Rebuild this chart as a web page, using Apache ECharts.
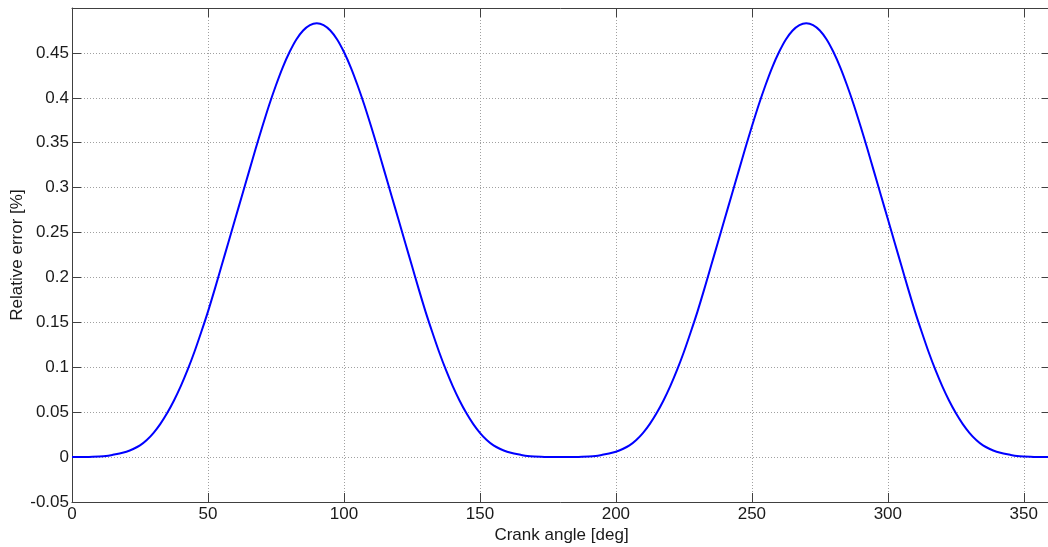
<!DOCTYPE html>
<html>
<head>
<meta charset="utf-8">
<script src="https://cdn.jsdelivr.net/npm/echarts@6/dist/echarts.min.js"></script>
<style>
html,body{margin:0;padding:0;background:#fff;}
#chart{width:1048px;height:547px;}
</style>
</head>
<body>
<div id="chart"></div>
<script>
// Crank angle [deg], every 2.5 degrees
const angles = [
  0,2.5,5,7.5,10,12.5,15,17.5,20,22.5,25,27.5,30,32.5,35,37.5,40,42.5,45,47.5,50,52.5,55,57.5,60,62.5,65,67.5,70,72.5,75,77.5,80,82.5,85,87.5,
  90,92.5,95,97.5,100,102.5,105,107.5,110,112.5,115,117.5,120,122.5,125,127.5,130,132.5,135,137.5,140,142.5,145,147.5,150,152.5,155,157.5,160,162.5,165,167.5,170,172.5,175,177.5,
  180,182.5,185,187.5,190,192.5,195,197.5,200,202.5,205,207.5,210,212.5,215,217.5,220,222.5,225,227.5,230,232.5,235,237.5,240,242.5,245,247.5,250,252.5,255,257.5,260,262.5,265,267.5,
  270,272.5,275,277.5,280,282.5,285,287.5,290,292.5,295,297.5,300,302.5,305,307.5,310,312.5,315,317.5,320,322.5,325,327.5,330,332.5,335,337.5,340,342.5,345,347.5,350,352.5,355,357.5,360
];
// Relative error [%]
const relError = [
  0,0,0.0001,0.0003,0.0006,0.0012,0.0025,0.004,0.006,0.009,0.013,0.019,0.027,0.037,0.049,0.063,0.079,0.097,0.117,0.139,0.162,0.187,0.213,0.239,0.265,0.291,0.317,0.343,0.368,0.392,0.414,0.434,0.451,0.465,0.475,0.481,
  0.483,0.481,0.475,0.465,0.451,0.434,0.414,0.392,0.368,0.343,0.317,0.291,0.265,0.239,0.213,0.187,0.162,0.139,0.117,0.097,0.079,0.063,0.049,0.037,0.027,0.019,0.013,0.009,0.006,0.004,0.0025,0.0012,0.0006,0.0003,0.0001,0,
  0,0,0.0001,0.0003,0.0006,0.0012,0.0025,0.004,0.006,0.009,0.013,0.019,0.027,0.037,0.049,0.063,0.079,0.097,0.117,0.139,0.162,0.187,0.213,0.239,0.265,0.291,0.317,0.343,0.368,0.392,0.414,0.434,0.451,0.465,0.475,0.481,
  0.483,0.481,0.475,0.465,0.451,0.434,0.414,0.392,0.368,0.343,0.317,0.291,0.265,0.239,0.213,0.187,0.162,0.139,0.117,0.097,0.079,0.063,0.049,0.037,0.027,0.019,0.013,0.009,0.006,0.004,0.0025,0.0012,0.0006,0.0003,0.0001,0,0
];

const xName = 'Crank angle [deg]';
const yName = 'Relative error [%]';

const pts = angles.map((a, i) => [a, relError[i]]);
const font = 'Liberation Sans, Arial, sans-serif';
const axisCol = '#404040';
const txtCol = '#1a1a1a';

const chart = echarts.init(document.getElementById('chart'), null, {renderer: 'canvas'});
chart.setOption({
  animation: false,
  backgroundColor: '#ffffff',
  grid: {left: 72, top: 8, width: 979, height: 494, containLabel: false, outerBoundsMode: 'none'},
  xAxis: [{
    type: 'value', min: 0, max: 360, interval: 50,
    name: xName, nameLocation: 'middle', nameGap: 25, nameMoveOverlap: false,
    nameTextStyle: {fontFamily: font, fontSize: 17, color: txtCol},
    axisLine: {show: true, onZero: false, lineStyle: {color: axisCol, width: 1}},
    axisTick: {show: true, inside: true, length: 9, lineStyle: {color: axisCol}},
    axisLabel: {fontFamily: font, fontSize: 17, color: txtCol, margin: 4, showMaxLabel: false},
    splitLine: {show: true, lineStyle: {color: '#a0a0a0', type: [1, 2], width: 1}}
  }, {
    type: 'value', position: 'top', min: 0, max: 360, interval: 50,
    axisLine: {show: true, onZero: false, lineStyle: {color: axisCol, width: 1}},
    axisTick: {show: true, inside: true, length: 9, lineStyle: {color: axisCol}},
    axisLabel: {show: false},
    splitLine: {show: false}
  }],
  yAxis: [{
    type: 'value', min: -0.05, max: 0.5, interval: 0.05,
    name: yName, nameLocation: 'middle', nameGap: 46, nameMoveOverlap: false,
    nameTextStyle: {fontFamily: font, fontSize: 17, color: txtCol},
    axisLine: {show: true, onZero: false, lineStyle: {color: axisCol, width: 1}},
    axisTick: {show: true, inside: true, length: 9, lineStyle: {color: axisCol}},
    axisLabel: {fontFamily: font, fontSize: 17, color: txtCol, margin: 3, showMaxLabel: false,
      formatter: v => String(Math.round(v * 100) / 100)},
    splitLine: {show: true, lineStyle: {color: '#a0a0a0', type: [1, 2], width: 1}}
  }, {
    type: 'value', position: 'right', min: -0.05, max: 0.5, interval: 0.05,
    axisLine: {show: true, onZero: false, lineStyle: {color: axisCol, width: 1}},
    axisTick: {show: true, inside: true, length: 9, lineStyle: {color: axisCol}},
    axisLabel: {show: false},
    splitLine: {show: false}
  }],
  series: [{
    type: 'line', data: pts, xAxisIndex: 0, yAxisIndex: 0,
    smooth: 0.25, showSymbol: false, symbol: 'none',
    lineStyle: {color: '#0000ff', width: 2, join: 'round'}
  }]
});
</script>
</body>
</html>
